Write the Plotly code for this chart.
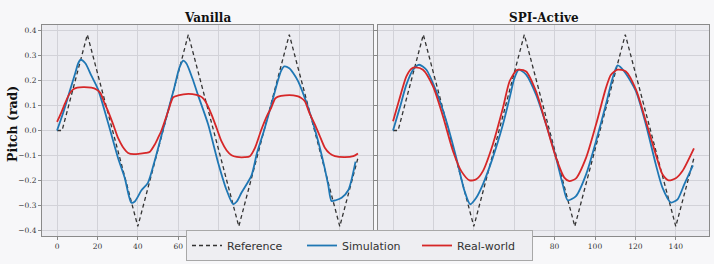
import plotly.graph_objects as go

# ---------------- data ----------------
ref_x = [0, 2.5, 15, 40, 65, 90, 115, 140, 149]
ref_y = [0.0, 0.0, 0.385, -0.385, 0.385, -0.385, 0.385, -0.385, -0.11]

van_sim_x = [0, 3, 6, 9, 10.5, 11.7, 14, 17, 20.3, 25.3, 30.2, 33.5, 35.5, 36.8, 38.5, 41.8, 45, 48.4,
             51.7, 55, 58, 60.5, 62.4, 64, 67, 69.9, 74.8, 79.8, 84, 87.2, 89, 91.3, 96.3, 99, 102.5,
             106, 109, 111, 112.5, 115, 117, 119.4, 124.4, 129.3, 132.5, 134.3, 135.9, 138, 140.9,
             144.2, 147.8]
van_sim_y = [0.0, 0.07, 0.15, 0.23, 0.27, 0.284, 0.27, 0.22, 0.165, 0.03, -0.11, -0.19, -0.26, -0.29,
             -0.285, -0.24, -0.21, -0.12, -0.02, 0.08, 0.17, 0.25, 0.28, 0.27, 0.21, 0.14, 0.025, -0.13,
             -0.24, -0.296, -0.285, -0.25, -0.18, -0.09, 0.0, 0.1, 0.19, 0.24, 0.257, 0.25, 0.23, 0.197,
             0.09, -0.043, -0.15, -0.22, -0.283, -0.28, -0.27, -0.24, -0.125]

van_real_x = [0, 2, 4, 6, 8, 10, 13, 17, 19.5, 21.5, 23.5, 25.3, 28, 30.2, 32.5, 35.2, 38, 41, 44, 46,
              48.4, 50, 51.7, 55, 57.5, 60, 65, 69, 71.5, 73.2, 76.5, 79, 81.4, 84, 86.4, 89, 93, 95.5,
              98, 101, 104, 106, 108, 109.5, 113, 117, 119.4, 121, 122.7, 125, 127.7, 130, 132.6, 135,
              137.6, 142.5, 146.7, 149]
van_real_y = [0.035, 0.07, 0.11, 0.145, 0.165, 0.172, 0.174, 0.172, 0.165, 0.15, 0.11, 0.077, 0.02,
              -0.03, -0.065, -0.09, -0.095, -0.093, -0.09, -0.085, -0.056, -0.03, 0.0, 0.077, 0.133,
              0.141, 0.147, 0.143, 0.135, 0.12, 0.064, 0.01, -0.043, -0.08, -0.099, -0.106, -0.107,
              -0.103, -0.07, 0.0, 0.06, 0.09, 0.128, 0.136, 0.141, 0.141, 0.137, 0.13, 0.117, 0.07,
              0.024, -0.02, -0.069, -0.092, -0.103, -0.107, -0.103, -0.092]

spi_sim_x = [0, 3.3, 6.6, 9.9, 12.9, 16.5, 21.4, 26.4, 31.3, 35.4, 38.2, 41.2, 44.5, 49.4, 54.4, 57.7,
             60.1, 62.3, 65.9, 70.8, 75.8, 80.7, 84, 86.5, 90.6, 95.6, 100.5, 105.4, 108.7, 111.2, 114.5,
             120.3, 125.2, 130.1, 133.4, 137.6, 140.9, 144.2, 148.5]
spi_sim_y = [0.0, 0.09, 0.184, 0.244, 0.264, 0.244, 0.157, 0.037, -0.109, -0.243, -0.296, -0.27, -0.216,
             -0.109, 0.024, 0.13, 0.21, 0.244, 0.224, 0.144, 0.024, -0.109, -0.216, -0.28, -0.263,
             -0.176, -0.043, 0.104, 0.21, 0.261, 0.237, 0.157, 0.024, -0.136, -0.229, -0.289, -0.276,
             -0.216, -0.14]

spi_real_x = [0, 3.3, 6.6, 9.1, 11.2, 14.8, 19.8, 24.7, 29.7, 33.8, 37.9, 41.2, 44.5, 49.4, 54.4, 57.7,
              61, 62.3, 65.9, 70.8, 75.8, 80.7, 84.8, 87.3, 90.6, 95.6, 100.5, 105.4, 107.9, 111.2,
              115.3, 120.3, 125.2, 130.1, 133.4, 136.4, 140, 143.3, 149]
spi_real_y = [0.037, 0.13, 0.217, 0.248, 0.253, 0.244, 0.177, 0.057, -0.083, -0.163, -0.2, -0.196,
              -0.163, -0.056, 0.09, 0.197, 0.241, 0.244, 0.237, 0.157, 0.024, -0.109, -0.189, -0.203,
              -0.192, -0.109, 0.024, 0.17, 0.224, 0.244, 0.237, 0.164, 0.037, -0.096, -0.176, -0.2,
              -0.192, -0.163, -0.072]

panel_titles = ["Vanilla", "SPI-Active"]
series_names = ["Reference", "Simulation", "Real-world"]
y_ticks = [-0.4, -0.3, -0.2, -0.1, 0.0, 0.1, 0.2, 0.3, 0.4]
x_ticks = [0, 20, 40, 60, 80, 100, 120, 140]
# tick labels that remain visible (the others sit behind the legend box)
x_labels_left = ["0", "20", "40", "60", "", "", "", ""]
x_labels_right = ["", "", "", "", "80", "100", "120", "140"]

# ---------------- styling ----------------
W, H = 714, 264
C_REF, C_SIM, C_REAL = "#333333", "#1f77b4", "#d62728"
PAPER, PLOT, GRID, AXC = "#f7f7f9", "#ececf1", "#d2d2d8", "#8a8a8a"

fig = go.Figure()
panels = [
    ("x", "y", van_sim_x, van_sim_y, van_real_x, van_real_y),
    ("x2", "y2", spi_sim_x, spi_sim_y, spi_real_x, spi_real_y),
]
for i, (xa, ya, sx, sy, rx, ry) in enumerate(panels):
    show = i == 0
    fig.add_trace(go.Scatter(x=ref_x, y=ref_y, mode="lines", name=series_names[0], xaxis=xa, yaxis=ya,
                             line=dict(color=C_REF, width=1.3, dash="4px,3px"), showlegend=show))
    fig.add_trace(go.Scatter(x=sx, y=sy, mode="lines", name=series_names[1], xaxis=xa, yaxis=ya,
                             line=dict(color=C_SIM, width=1.8, shape="spline", smoothing=0.7),
                             showlegend=show))
    fig.add_trace(go.Scatter(x=rx, y=ry, mode="lines", name=series_names[2], xaxis=xa, yaxis=ya,
                             line=dict(color=C_REAL, width=1.8, shape="spline", smoothing=0.7),
                             showlegend=show))

x_range = [-7.45, 156.45]
y_range = [-0.4235, 0.4235]
tick_font = dict(family="DejaVu Serif", size=7.5, color="#333333")
y_dom = [1 - 236 / H, 1 - 25 / H]
doms = [[42 / W, 373 / W], [378 / W, 709 / W]]

common_x = dict(range=x_range, tickvals=x_ticks, ticks="outside", ticklen=3, tickcolor=AXC,
                showline=True, mirror=True, linecolor=AXC, linewidth=1, showgrid=True,
                gridcolor=GRID, gridwidth=1, zeroline=False, tickfont=tick_font)
common_y = dict(range=y_range, tickvals=y_ticks, tickformat=".1f", ticks="outside", ticklen=3,
                tickcolor=AXC, showline=True, mirror=True, linecolor=AXC, linewidth=1,
                showgrid=True, gridcolor=GRID, gridwidth=1, zeroline=False, tickfont=tick_font)

fig.update_layout(
    width=W, height=H, margin=dict(l=0, r=0, t=0, b=0),
    paper_bgcolor=PAPER, plot_bgcolor=PLOT,
    xaxis=dict(domain=doms[0], anchor="y", ticktext=x_labels_left, **common_x),
    yaxis=dict(domain=y_dom, anchor="x", **common_y),
    xaxis2=dict(domain=doms[1], anchor="y2", ticktext=x_labels_right, **common_x),
    yaxis2=dict(domain=y_dom, anchor="x2", showticklabels=False, **common_y),
    legend=dict(orientation="h", x=359.5 / W, xanchor="center", y=1 - 261 / H, yanchor="bottom",
                bgcolor="#eeeef2", bordercolor="#a8a8a8", borderwidth=1,
                font=dict(family="DejaVu Sans", size=11, color="#333333"),
                entrywidth=70, entrywidthmode="pixels", itemwidth=30),
    showlegend=True,
)

for dom, title in zip(doms, panel_titles):
    fig.add_annotation(text="<b>" + title + "</b>", x=(dom[0] + dom[1]) / 2, y=1 - 18 / H,
                       xref="paper", yref="paper", showarrow=False, xanchor="center", yanchor="middle",
                       font=dict(family="DejaVu Serif", size=12, color="#111111"))

fig.add_annotation(text="<b>Pitch (rad)</b>", x=12 / W, y=1 - 124 / H, xref="paper", yref="paper",
                   showarrow=False, textangle=-90, xanchor="center", yanchor="middle",
                   font=dict(family="DejaVu Serif", size=12.5, color="#111111"))

fig.write_html("out.html")
